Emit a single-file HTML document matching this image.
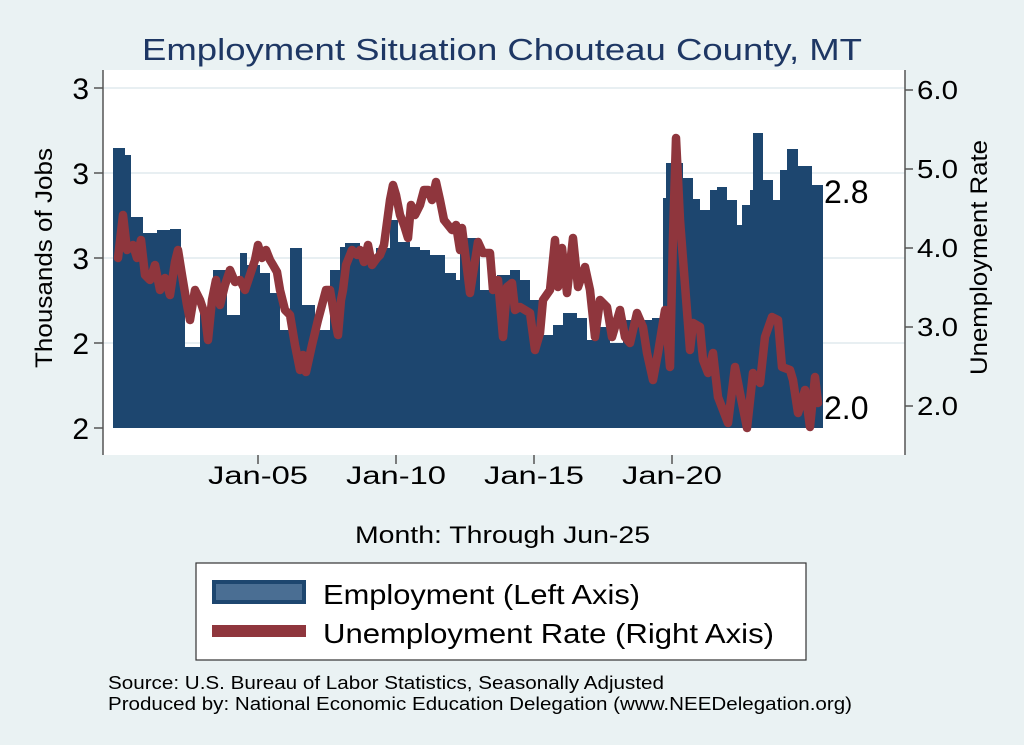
<!DOCTYPE html>
<html><head><style>
body{margin:0;background:#eaf2f3;}
svg{display:block;font-family:"Liberation Sans",sans-serif;}
</style></head><body>
<svg width="1024" height="745" viewBox="0 0 1024 745">
<rect width="1024" height="745" fill="#eaf2f3"/>
<rect x="103" y="70" width="802" height="385" fill="#fff"/>
<g stroke="#e8eff2" stroke-width="2">
<line x1="103" y1="88" x2="905" y2="88"/><line x1="103" y1="173" x2="905" y2="173"/>
<line x1="103" y1="258" x2="905" y2="258"/><line x1="103" y1="343" x2="905" y2="343"/>
</g>
<text x="142" y="60" font-size="31" fill="#1e3764" textLength="720" lengthAdjust="spacingAndGlyphs">Employment Situation Chouteau  County, MT</text>
<polygon fill="#1d466f" points="113,428 113,148 125,148 125,155 131,155 131,217 143,217 143,233 157,233 157,230 170,230 170,229 181,229 181,290 185,290 185,347 200,347 200,310 213,310 213,270 227,270 227,315 240,315 240,253 247,253 247,265 260,265 260,273 270,273 270,293 280,293 280,330 290,330 290,248 302,248 302,305 315,305 315,330 330,330 330,270 340,270 340,247 345,247 345,243 360,243 360,255 376,255 376,248 390,248 390,220 398,220 398,242 410,242 410,247 420,247 420,250 430,250 430,255 445,255 445,273 456,273 456,280 460,280 460,238 480,238 480,290 497,290 497,275 510,275 510,270 520,270 520,280 530,280 530,300 540,300 540,335 553,335 553,325 563,325 563,313 577,313 577,318 587,318 587,340 597,340 597,327 610,327 610,343 623,343 623,320 652,320 652,318 663,318 663,198 666,198 666,163 683,163 683,178 693,178 693,199 700,199 700,210 710,210 710,190 717,190 717,187 727,187 727,200 737,200 737,225 742,225 742,205 750,205 750,190 753,190 753,133 763,133 763,180 773,180 773,200 780,200 780,170 787,170 787,149 798,149 798,166 812,166 812,185 823,185 823,428"/>
<polyline fill="none" stroke="#8f363d" stroke-width="8.5" stroke-linejoin="round" stroke-linecap="round" points="118,258 123,215 127,250 133,245 137,258 141,240 145,275 150,280 155,265 160,290 165,278 170,295 175,262 178,250 182,275 187,305 190,320 195,290 200,300 205,315 208,340 212,300 216,280 220,305 225,285 230,270 235,282 240,280 245,290 250,275 255,260 258,245 262,258 266,250 270,260 273,265 277,272 280,290 285,310 290,315 295,345 300,370 303,355 306,372 312,345 318,320 322,305 326,290 330,290 335,320 338,335 341,300 343,290 346,265 352,250 357,255 360,250 364,262 368,245 372,265 377,258 380,255 384,245 390,200 393,185 396,195 400,215 404,225 408,238 411,205 415,215 420,205 424,190 428,190 432,200 436,182 440,200 444,220 448,225 452,230 456,225 460,250 462,228 470,293 478,242 483,253 490,253 493,290 498,280 503,337 507,287 512,283 515,310 520,307 530,313 535,350 540,333 543,300 550,290 555,240 558,287 562,248 567,293 573,238 578,287 585,267 590,290 595,337 600,300 607,307 612,337 620,310 625,337 630,343 637,313 643,327 647,353 653,380 658,353 665,310 670,367 673,237 676,138 680,220 690,350 693,323 700,327 703,360 708,373 713,353 718,397 728,423 735,367 740,393 747,428 753,373 760,383 765,337 772,317 778,320 782,367 790,370 793,380 798,413 805,390 810,427 815,377 818,403"/>
<line x1="103" y1="70" x2="103" y2="455" stroke="#555" stroke-width="1.5"/>
<line x1="905" y1="70" x2="905" y2="455" stroke="#555" stroke-width="1.5"/>
<g stroke="#555" stroke-width="1.5">
<line x1="94" y1="88" x2="103" y2="88"/><line x1="94" y1="173" x2="103" y2="173"/><line x1="94" y1="258" x2="103" y2="258"/><line x1="94" y1="343" x2="103" y2="343"/><line x1="94" y1="428" x2="103" y2="428"/>
<line x1="905" y1="90" x2="913" y2="90"/><line x1="905" y1="169" x2="913" y2="169"/><line x1="905" y1="248" x2="913" y2="248"/><line x1="905" y1="327" x2="913" y2="327"/><line x1="905" y1="406" x2="913" y2="406"/>
<line x1="258" y1="455" x2="258" y2="464"/><line x1="396" y1="455" x2="396" y2="464"/><line x1="534" y1="455" x2="534" y2="464"/><line x1="672" y1="455" x2="672" y2="464"/>
</g>
<g font-size="30" text-anchor="end">
<text x="89" y="99">3</text><text x="89" y="184">3</text><text x="89" y="269">3</text><text x="89" y="354">2</text><text x="89" y="439">2</text>
</g>
<g font-size="26">
<text x="917" y="99" textLength="41" lengthAdjust="spacingAndGlyphs">6.0</text><text x="917" y="178" textLength="41" lengthAdjust="spacingAndGlyphs">5.0</text><text x="917" y="257" textLength="41" lengthAdjust="spacingAndGlyphs">4.0</text><text x="917" y="336" textLength="41" lengthAdjust="spacingAndGlyphs">3.0</text><text x="917" y="415" textLength="41" lengthAdjust="spacingAndGlyphs">2.0</text>
</g>
<g font-size="25">
<text x="208" y="484" textLength="100" lengthAdjust="spacingAndGlyphs">Jan-05</text><text x="346" y="484" textLength="100" lengthAdjust="spacingAndGlyphs">Jan-10</text><text x="484" y="484" textLength="100" lengthAdjust="spacingAndGlyphs">Jan-15</text><text x="622" y="484" textLength="100" lengthAdjust="spacingAndGlyphs">Jan-20</text>
</g>
<text x="824" y="203" font-size="32">2.8</text>
<text x="824" y="419" font-size="32">2.0</text>
<text transform="translate(52,368) rotate(-90)" font-size="24" textLength="220" lengthAdjust="spacingAndGlyphs">Thousands of Jobs</text>
<text transform="translate(987,375) rotate(-90)" font-size="24" textLength="235" lengthAdjust="spacingAndGlyphs">Unemployment Rate</text>
<text x="355" y="543" font-size="24" textLength="295" lengthAdjust="spacingAndGlyphs">Month: Through Jun-25</text>
<rect x="196" y="563" width="610" height="97" fill="#fff" stroke="#333" stroke-width="1.2"/>
<rect x="212" y="580" width="94" height="24" fill="#1d466f"/>
<rect x="216" y="584" width="86" height="16" fill="#4a6e93"/>
<text x="323" y="604" font-size="28" textLength="317" lengthAdjust="spacingAndGlyphs">Employment (Left Axis)</text>
<rect x="212" y="625" width="94" height="12" fill="#8f363d"/>
<text x="323" y="643" font-size="28" textLength="451" lengthAdjust="spacingAndGlyphs">Unemployment Rate (Right Axis)</text>
<text x="108" y="689" font-size="18" textLength="556" lengthAdjust="spacingAndGlyphs">Source: U.S. Bureau of Labor Statistics, Seasonally Adjusted</text>
<text x="108" y="710" font-size="18" textLength="744" lengthAdjust="spacingAndGlyphs">Produced by: National Economic Education Delegation (www.NEEDelegation.org)</text>
</svg>
</body></html>
